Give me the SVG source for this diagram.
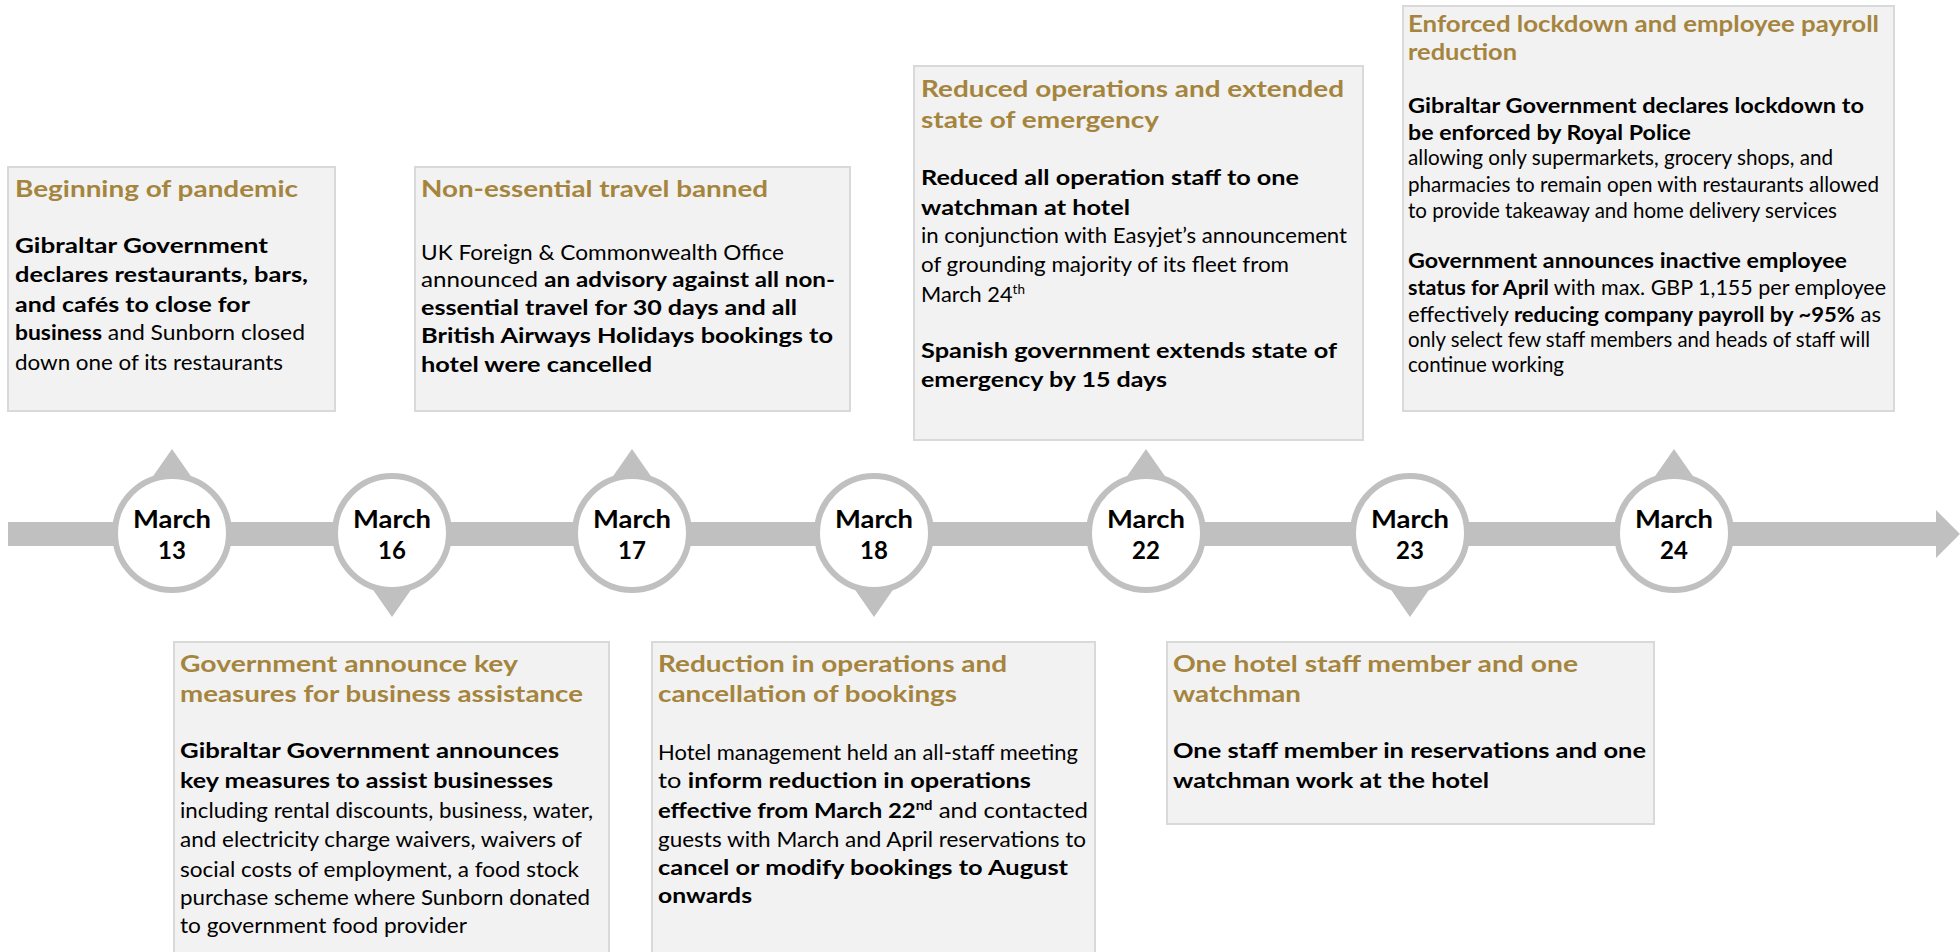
<svg xmlns="http://www.w3.org/2000/svg" width="1960" height="952" viewBox="0 0 1960 952">
  <style>
    .box { fill: #f2f2f2; stroke: #d9d9d9; stroke-width: 2; }
    .title { font-family: Lato, "Open Sans", sans-serif; font-weight: bold; font-size: 23.5px; fill: #a5853e; }
    .body { font-family: Lato, "Open Sans", sans-serif; font-size: 21px; fill: #000; }
    .b { font-weight: bold; }
    .sup { font-size: 13px; }
    .ring { fill: #fff; stroke: #c0c0c0; stroke-width: 6; }
    .ptr { fill: #c0c0c0; }
    .date { font-family: Lato, "Open Sans", sans-serif; font-weight: bold; font-size: 24px; fill: #000; text-anchor: middle; }
  </style>
  <defs>
    <polygon id="ptr-up" class="ptr" points="-30,43 0,0 30,43"/>
    <polygon id="ptr-down" class="ptr" points="-30,-43 0,0 30,-43"/>
  </defs>

  <rect width="1960" height="952" fill="#fff"/>

  <!-- timeline axis -->
  <g id="connectors">
    <rect x="8" y="522" width="1930" height="24" fill="#c0c0c0"/>
    <polygon points="1936,510 1960,534 1936,558" fill="#c0c0c0"/>
  </g>

  <!-- date markers -->
  <g id="date-mar13">
    <use href="#ptr-up" x="172" y="449"/>
    <circle class="ring" cx="172" cy="533" r="57"/>
    <text class="date" x="172" y="528" textLength="78" lengthAdjust="spacingAndGlyphs">March</text>
    <text class="date" x="172" y="559">13</text>
  </g>
  <g id="date-mar16">
    <use href="#ptr-down" x="392" y="617"/>
    <circle class="ring" cx="392" cy="533" r="57"/>
    <text class="date" x="392" y="528" textLength="78" lengthAdjust="spacingAndGlyphs">March</text>
    <text class="date" x="392" y="559">16</text>
  </g>
  <g id="date-mar17">
    <use href="#ptr-up" x="632" y="449"/>
    <circle class="ring" cx="632" cy="533" r="57"/>
    <text class="date" x="632" y="528" textLength="78" lengthAdjust="spacingAndGlyphs">March</text>
    <text class="date" x="632" y="559">17</text>
  </g>
  <g id="date-mar18">
    <use href="#ptr-down" x="874" y="617"/>
    <circle class="ring" cx="874" cy="533" r="57"/>
    <text class="date" x="874" y="528" textLength="78" lengthAdjust="spacingAndGlyphs">March</text>
    <text class="date" x="874" y="559">18</text>
  </g>
  <g id="date-mar22">
    <use href="#ptr-up" x="1146" y="449"/>
    <circle class="ring" cx="1146" cy="533" r="57"/>
    <text class="date" x="1146" y="528" textLength="78" lengthAdjust="spacingAndGlyphs">March</text>
    <text class="date" x="1146" y="559">22</text>
  </g>
  <g id="date-mar23">
    <use href="#ptr-down" x="1410" y="617"/>
    <circle class="ring" cx="1410" cy="533" r="57"/>
    <text class="date" x="1410" y="528" textLength="78" lengthAdjust="spacingAndGlyphs">March</text>
    <text class="date" x="1410" y="559">23</text>
  </g>
  <g id="date-mar24">
    <use href="#ptr-up" x="1674" y="449"/>
    <circle class="ring" cx="1674" cy="533" r="57"/>
    <text class="date" x="1674" y="528" textLength="78" lengthAdjust="spacingAndGlyphs">March</text>
    <text class="date" x="1674" y="559">24</text>
  </g>

  <!-- event cards above the axis -->
  <g id="card-beginning">
    <rect class="box" x="8" y="167" width="327" height="244"/>
    <text class="title" x="15" y="197" textLength="283" lengthAdjust="spacingAndGlyphs">Beginning of pandemic</text>
    <text class="body" x="15" y="253" textLength="253" lengthAdjust="spacingAndGlyphs"><tspan class="b">Gibraltar Government</tspan></text>
    <text class="body" x="15" y="282" textLength="293" lengthAdjust="spacingAndGlyphs"><tspan class="b">declares restaurants, bars,</tspan></text>
    <text class="body" x="15" y="312" textLength="235" lengthAdjust="spacingAndGlyphs"><tspan class="b">and cafés to close for</tspan></text>
    <text class="body" x="15" y="340" textLength="290" lengthAdjust="spacingAndGlyphs"><tspan class="b">business</tspan> and Sunborn closed</text>
    <text class="body" x="15" y="370" textLength="268" lengthAdjust="spacingAndGlyphs">down one of its restaurants</text>
  </g>

  <g id="card-travel">
    <rect class="box" x="415" y="167" width="435" height="244"/>
    <text class="title" x="421" y="197" textLength="347" lengthAdjust="spacingAndGlyphs">Non-essential travel banned</text>
    <text class="body" x="421" y="260" textLength="363" lengthAdjust="spacingAndGlyphs">UK Foreign &amp; Commonwealth Office</text>
    <text class="body" x="421" y="287" textLength="414" lengthAdjust="spacingAndGlyphs">announced <tspan class="b">an advisory against all non-</tspan></text>
    <text class="body" x="421" y="315" textLength="376" lengthAdjust="spacingAndGlyphs"><tspan class="b">essential travel for 30 days and all</tspan></text>
    <text class="body" x="421" y="343" textLength="412" lengthAdjust="spacingAndGlyphs"><tspan class="b">British Airways Holidays bookings to</tspan></text>
    <text class="body" x="421" y="372" textLength="231" lengthAdjust="spacingAndGlyphs"><tspan class="b">hotel were cancelled</tspan></text>
  </g>

  <g id="card-reduced">
    <rect class="box" x="914" y="66" width="449" height="374"/>
    <text class="title" x="921" y="97" textLength="423" lengthAdjust="spacingAndGlyphs">Reduced operations and extended</text>
    <text class="title" x="921" y="128" textLength="238" lengthAdjust="spacingAndGlyphs">state of emergency</text>
    <text class="body" x="921" y="185" textLength="378" lengthAdjust="spacingAndGlyphs"><tspan class="b">Reduced all operation staff to one</tspan></text>
    <text class="body" x="921" y="215" textLength="209" lengthAdjust="spacingAndGlyphs"><tspan class="b">watchman at hotel</tspan></text>
    <text class="body" x="921" y="243" textLength="426" lengthAdjust="spacingAndGlyphs">in conjunction with Easyjet’s announcement</text>
    <text class="body" x="921" y="272" textLength="368" lengthAdjust="spacingAndGlyphs">of grounding majority of its fleet from</text>
    <text class="body" x="921" y="302" textLength="104" lengthAdjust="spacingAndGlyphs">March 24<tspan class="sup" dy="-8">th</tspan></text>
    <text class="body" x="921" y="358" textLength="416" lengthAdjust="spacingAndGlyphs"><tspan class="b">Spanish government extends state of</tspan></text>
    <text class="body" x="921" y="387" textLength="246" lengthAdjust="spacingAndGlyphs"><tspan class="b">emergency by 15 days</tspan></text>
  </g>

  <g id="card-lockdown">
    <rect class="box" x="1403" y="6" width="491" height="405"/>
    <text class="title" x="1408" y="32" textLength="471" lengthAdjust="spacingAndGlyphs">Enforced lockdown and employee payroll</text>
    <text class="title" x="1408" y="60" textLength="109" lengthAdjust="spacingAndGlyphs">reduction</text>
    <text class="body" x="1408" y="113" textLength="456" lengthAdjust="spacingAndGlyphs"><tspan class="b">Gibraltar Government declares lockdown to</tspan></text>
    <text class="body" x="1408" y="140" textLength="283" lengthAdjust="spacingAndGlyphs"><tspan class="b">be enforced by Royal Police</tspan></text>
    <text class="body" x="1408" y="165" textLength="425" lengthAdjust="spacingAndGlyphs">allowing only supermarkets, grocery shops, and</text>
    <text class="body" x="1408" y="192" textLength="471" lengthAdjust="spacingAndGlyphs">pharmacies to remain open with restaurants allowed</text>
    <text class="body" x="1408" y="218" textLength="429" lengthAdjust="spacingAndGlyphs">to provide takeaway and home delivery services</text>
    <text class="body" x="1408" y="268" textLength="439" lengthAdjust="spacingAndGlyphs"><tspan class="b">Government announces inactive employee</tspan></text>
    <text class="body" x="1408" y="295" textLength="478" lengthAdjust="spacingAndGlyphs"><tspan class="b">status for April</tspan> with max. GBP 1,155 per employee</text>
    <text class="body" x="1408" y="322" textLength="473" lengthAdjust="spacingAndGlyphs">effectively <tspan class="b">reducing company payroll by ~95%</tspan> as</text>
    <text class="body" x="1408" y="347" textLength="462" lengthAdjust="spacingAndGlyphs">only select few staff members and heads of staff will</text>
    <text class="body" x="1408" y="372" textLength="156" lengthAdjust="spacingAndGlyphs">continue working</text>
  </g>

  <!-- event cards below the axis -->
  <g id="card-assistance">
    <rect class="box" x="174" y="642" width="435" height="330"/>
    <text class="title" x="180" y="672" textLength="338" lengthAdjust="spacingAndGlyphs">Government announce key</text>
    <text class="title" x="180" y="702" textLength="403" lengthAdjust="spacingAndGlyphs">measures for business assistance</text>
    <text class="body" x="180" y="758" textLength="379" lengthAdjust="spacingAndGlyphs"><tspan class="b">Gibraltar Government announces</tspan></text>
    <text class="body" x="180" y="788" textLength="373" lengthAdjust="spacingAndGlyphs"><tspan class="b">key measures to assist businesses</tspan></text>
    <text class="body" x="180" y="818" textLength="413" lengthAdjust="spacingAndGlyphs">including rental discounts, business, water,</text>
    <text class="body" x="180" y="847" textLength="402" lengthAdjust="spacingAndGlyphs">and electricity charge waivers, waivers of</text>
    <text class="body" x="180" y="877" textLength="399" lengthAdjust="spacingAndGlyphs">social costs of employment, a food stock</text>
    <text class="body" x="180" y="905" textLength="410" lengthAdjust="spacingAndGlyphs">purchase scheme where Sunborn donated</text>
    <text class="body" x="180" y="933" textLength="287" lengthAdjust="spacingAndGlyphs">to government food provider</text>
  </g>

  <g id="card-bookings">
    <rect class="box" x="652" y="642" width="443" height="330"/>
    <text class="title" x="658" y="672" textLength="349" lengthAdjust="spacingAndGlyphs">Reduction in operations and</text>
    <text class="title" x="658" y="702" textLength="299" lengthAdjust="spacingAndGlyphs">cancellation of bookings</text>
    <text class="body" x="658" y="760" textLength="420" lengthAdjust="spacingAndGlyphs">Hotel management held an all-staff meeting</text>
    <text class="body" x="658" y="788" textLength="373" lengthAdjust="spacingAndGlyphs">to <tspan class="b">inform reduction in operations</tspan></text>
    <text class="body" x="658" y="818" textLength="430" lengthAdjust="spacingAndGlyphs"><tspan class="b">effective from March 22<tspan class="sup" dy="-8">nd</tspan></tspan><tspan dy="8"> and contacted</tspan></text>
    <text class="body" x="658" y="847" textLength="428" lengthAdjust="spacingAndGlyphs">guests with March and April reservations to</text>
    <text class="body" x="658" y="875" textLength="410" lengthAdjust="spacingAndGlyphs"><tspan class="b">cancel or modify bookings to August</tspan></text>
    <text class="body" x="658" y="903" textLength="94" lengthAdjust="spacingAndGlyphs"><tspan class="b">onwards</tspan></text>
  </g>

  <g id="card-skeleton-staff">
    <rect class="box" x="1167" y="642" width="487" height="182"/>
    <text class="title" x="1173" y="672" textLength="405" lengthAdjust="spacingAndGlyphs">One hotel staff member and one</text>
    <text class="title" x="1173" y="702" textLength="128" lengthAdjust="spacingAndGlyphs">watchman</text>
    <text class="body" x="1173" y="758" textLength="473" lengthAdjust="spacingAndGlyphs"><tspan class="b">One staff member in reservations and one</tspan></text>
    <text class="body" x="1173" y="788" textLength="316" lengthAdjust="spacingAndGlyphs"><tspan class="b">watchman work at the hotel</tspan></text>
  </g>
</svg>
